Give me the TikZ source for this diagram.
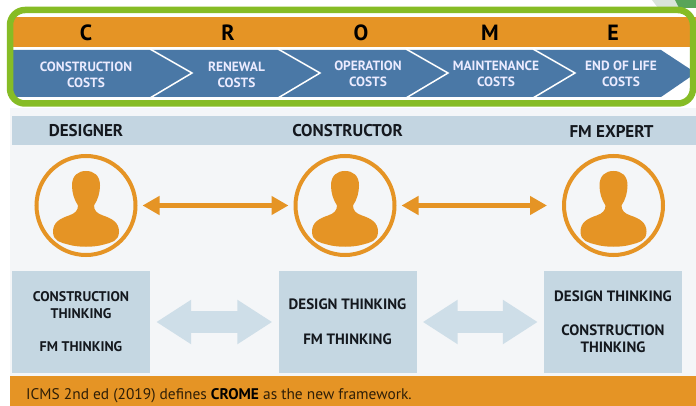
\documentclass[tikz,border=0pt]{standalone}
\usepackage{fontspec}
\setmainfont{PT Sans}
\usetikzlibrary{arrows.meta}
\definecolor{orng}{HTML}{E59425}
\definecolor{blu}{HTML}{4A78A6}
\definecolor{lblue}{HTML}{C5D7E2}
\definecolor{lbar}{HTML}{C3D5E1}
\definecolor{larrow}{HTML}{CEDEE8}
\definecolor{pale}{HTML}{F4F6F8}
\definecolor{grn}{HTML}{86BC25}
\definecolor{ink}{HTML}{14181E}
\tikzset{
  letter/.style={font=\bfseries\fontsize{22}{22}\selectfont,text=black},
  costlab/.style={font=\bfseries\fontsize{13.4}{16}\selectfont,text=white!92!blue,align=center},
  role/.style={font=\bfseries\fontsize{17}{17}\selectfont,text=ink},
  ring/.style={circle,draw=orng,line width=4pt,minimum size=99pt,inner sep=0pt},
  thinkbox/.style={fill=lblue,minimum width=138pt,minimum height=102pt,inner sep=0pt,align=center,
     font=\bfseries\fontsize{15}{17}\selectfont,text=ink},
  orangearrow/.style={draw=orng,line width=5pt,{Triangle[length=17pt,width=18pt]}-{Triangle[length=17pt,width=18pt]},shorten <=5pt},
  bigarrow/.style={draw=larrow,line width=22pt,{Triangle[length=35pt,width=42pt]}-{Triangle[length=35pt,width=42pt]},shorten <=6pt,shorten >=6pt},
  sep/.style={draw=white,line width=1.5pt}
}
\newcommand{\personicon}[1]{%
  \fill[orng,shift={(#1)}]
    (-8,0) .. controls (-12,-6) and (-14,-13) .. (-14,-20)
    .. controls (-14,-30) and (-8,-34.5) .. (0,-34.5)
    .. controls (8,-34.5) and (14,-30) .. (14,-20)
    .. controls (14,-13) and (12,-6) .. (8,0)
    .. controls (8,5) and (11,8) .. (17,10)
    .. controls (26,13) and (33,17) .. (33,26)
    .. controls (33,36) and (25,37) .. (18,39)
    .. controls (8,42) and (-8,42) .. (-18,39)
    .. controls (-25,37) and (-33,36) .. (-33,26)
    .. controls (-33,17) and (-26,13) .. (-17,10)
    .. controls (-11,8) and (-8,5) .. (-8,0) -- cycle;}
\begin{document}
\begin{tikzpicture}[x=1pt,y=-1pt]
\useasboundingbox (0,0) rectangle (696,406);
\fill[white] (0,0) rectangle (696,406);
% corner decoration
\fill[green!30!black!15!white] (652,0) -- (696,0) -- (696,8) -- (658,8) -- cycle;
\fill[green!45!black!65!white] (675,0) -- (696,0) -- (696,8) -- (679,8) -- cycle;
% top bands
\fill[orng] (13,17) rectangle (696,47);
\fill[blu] (13,50) -- (661,50) -- (696,73) -- (661,97) -- (13,97) -- cycle;
\coordinate (n1a) at (150,49); \coordinate (n1t) at (192,73); \coordinate (n1b) at (150,98);
\coordinate (n2a) at (278,49); \coordinate (n2t) at (320,73); \coordinate (n2b) at (278,98);
\coordinate (n3a) at (406,49); \coordinate (n3t) at (448,73); \coordinate (n3b) at (406,98);
\coordinate (n4a) at (533,49); \coordinate (n4t) at (575,73); \coordinate (n4b) at (533,98);
\draw[sep] (n1a) -- (n1t) -- (n1b);
\draw[sep] (n2a) -- (n2t) -- (n2b);
\draw[sep] (n3a) -- (n3t) -- (n3b);
\draw[sep] (n4a) -- (n4t) -- (n4b);
\node[letter] (lc) at (86,33) {C};
\node[letter] (lr) at (228,33) {R};
\node[letter] (lo) at (361,33) {O};
\node[letter] (lm) at (490,33) {M};
\node[letter] (le) at (613,33) {E};
\node[costlab] (c1) at (86,75) {CONSTRUCTION\\COSTS};
\node[costlab] (c2) at (236.5,75) {RENEWAL\\COSTS};
\node[costlab] (c3) at (368,74) {OPERATION\\COSTS};
\node[costlab] (c4) at (496,74) {MAINTENANCE\\COSTS};
\node[costlab] (c5) at (621,74) {END OF LIFE\\COSTS};
\draw[grn,line width=6.5pt,rounded corners=15pt] (10,10) rectangle (693,103.5);
% middle
\fill[pale] (10,108) rectangle (696,376);
\fill[lbar] (12,116) rectangle (696,145);
\node[role] (r1) at (86,131) {DESIGNER};
\node[role] (r2) at (347.5,131) {CONSTRUCTOR};
\node[role] (r3) at (611.5,131) {FM EXPERT};
\node[ring] (p1) at (86,205.5) {};
\node[ring] (p2) at (345,205.5) {};
\node[ring] (p3) at (613.5,205.5) {};
\personicon{86,205.5}
\personicon{345,205.5}
\personicon{613.5,205.5}
\draw[orangearrow,shorten >=5pt] (p1) -- (p2);
\draw[orangearrow,shorten >=15pt] (p2) -- (p3);
\node[thinkbox,font=\bfseries\fontsize{14}{17}\selectfont] (b1) at (81,322) {CONSTRUCTION\\THINKING\\[16pt]FM THINKING};
\node[thinkbox] (b2) at (347.5,322) {DESIGN THINKING\\[18pt]FM THINKING};
\node[thinkbox] (b3) at (613,322) {DESIGN THINKING\\[17pt]CONSTRUCTION\\THINKING};
\draw[bigarrow] (b1) -- (b2);
\draw[bigarrow] (b2) -- (b3);
% bottom
\fill[orng] (10,376) rectangle (696,406);
\node[anchor=base west,inner sep=0pt,font=\fontsize{15.4}{15}\selectfont,text=black!80!orng] (foot) at (26,399)
  {ICMS 2nd ed (2019) defines {\bfseries\color{black}CROME} as the new framework.};
\end{tikzpicture}
\end{document}
